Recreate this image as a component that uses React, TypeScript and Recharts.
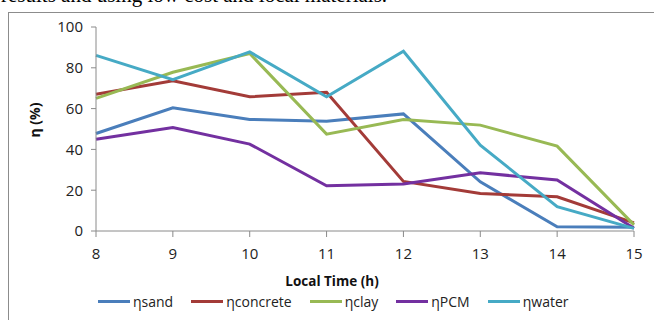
import React from 'react';
import { LineChart, Line, XAxis, YAxis, Legend, Label } from 'recharts';

const hours = [8, 9, 10, 11, 12, 13, 14, 15];
const sand = [47.8, 60.4, 54.7, 53.8, 57.4, 24.1, 2.1, 1.8];
const concrete = [67, 73.6, 65.8, 68, 24.3, 18.4, 16.8, 4];
const clay = [65, 77.8, 87, 47.5, 54.7, 51.9, 41.6, 3];
const pcm = [45, 50.7, 42.6, 22.2, 23, 28.5, 25, 1.3];
const water = [86.1, 74.2, 87.8, 65.8, 88.1, 42.1, 11.9, 1.3];
const yTicks = [0, 20, 40, 60, 80, 100];

const seriesNames = ['ηsand', 'ηconcrete', 'ηclay', 'ηPCM', 'ηwater'];
const seriesKeys = ['sand', 'concrete', 'clay', 'pcm', 'water'];
const seriesColors = ['#4A7EBB', '#A33B38', '#98B954', '#7330A0', '#46AAC5'];

const data = hours.map((h, i) => ({
  hour: h,
  sand: sand[i],
  concrete: concrete[i],
  clay: clay[i],
  pcm: pcm[i],
  water: water[i],
}));

const FONT = '"Open Sans", sans-serif';
const AXIS = '#8a8a8a';

const LegendContent = () => (
  <div style={{ display: 'flex', alignItems: 'center', paddingLeft: 98, gap: 18, fontFamily: FONT, fontSize: 14, color: '#222', height: 20 }}>
    {seriesNames.map((n, i) => (
      <div key={n} style={{ display: 'flex', alignItems: 'center' }}>
        <div style={{ width: 32, height: 3, background: seriesColors[i], marginRight: 3 }} />
        <span>{n}</span>
      </div>
    ))}
  </div>
);

export default function App() {
  return (
    <div style={{ position: 'fixed', left: 0, top: 0, width: 654, height: 320, overflow: 'hidden', background: '#fff' }}>
      <div style={{ position: 'absolute', left: 1, top: -17, fontFamily: '"Liberation Serif", serif', fontSize: 21, whiteSpace: 'nowrap', color: '#000' }}>
        results and using low cost and local materials.
      </div>
      <div style={{ position: 'absolute', left: 8, top: 12, width: 700, height: 400, border: '1px solid #8c8c8c' }} />
      <div style={{ position: 'absolute', left: 0, top: 0 }}>
        <LineChart width={654} height={320} data={data} margin={{ top: 27, right: 20, left: 0, bottom: 9 }}>
          <XAxis
            dataKey="hour"
            type="number"
            domain={[8, 15]}
            ticks={hours}
            height={60}
            stroke={AXIS}
            tickSize={6}
            tickMargin={11}
            tick={{ fill: '#222', fontSize: 15, fontFamily: FONT }}
          >
            <Label
              content={() => (
                <text x={332} y={281} textAnchor="middle" dominantBaseline="central" fontFamily={FONT} fontSize={13.5} fontWeight="bold" fill="#111">
                  Local Time (h)
                </text>
              )}
            />
          </XAxis>
          <YAxis
            type="number"
            domain={[0, 100]}
            ticks={yTicks}
            width={96}
            stroke={AXIS}
            tickSize={5}
            tickMargin={8}
            tick={{ fill: '#222', fontSize: 15, fontFamily: FONT }}
          >
            <Label
              content={() => (
                <text x={34} y={120} transform="rotate(-90, 34, 120)" textAnchor="middle" dominantBaseline="central" fontFamily={FONT} fontSize={14} fontWeight="bold" fill="#111">
                  η (%)
                </text>
              )}
            />
          </YAxis>
          <Legend verticalAlign="bottom" wrapperStyle={{ left: 0, width: 654, bottom: 9, height: 20 }} content={LegendContent} />
          {seriesKeys.map((k, i) => (
            <Line
              key={k}
              dataKey={k}
              name={seriesNames[i]}
              stroke={seriesColors[i]}
              strokeWidth={3}
              dot={false}
              activeDot={false}
              isAnimationActive={false}
              strokeLinejoin="miter"
            />
          ))}
        </LineChart>
      </div>
    </div>
  );
}
